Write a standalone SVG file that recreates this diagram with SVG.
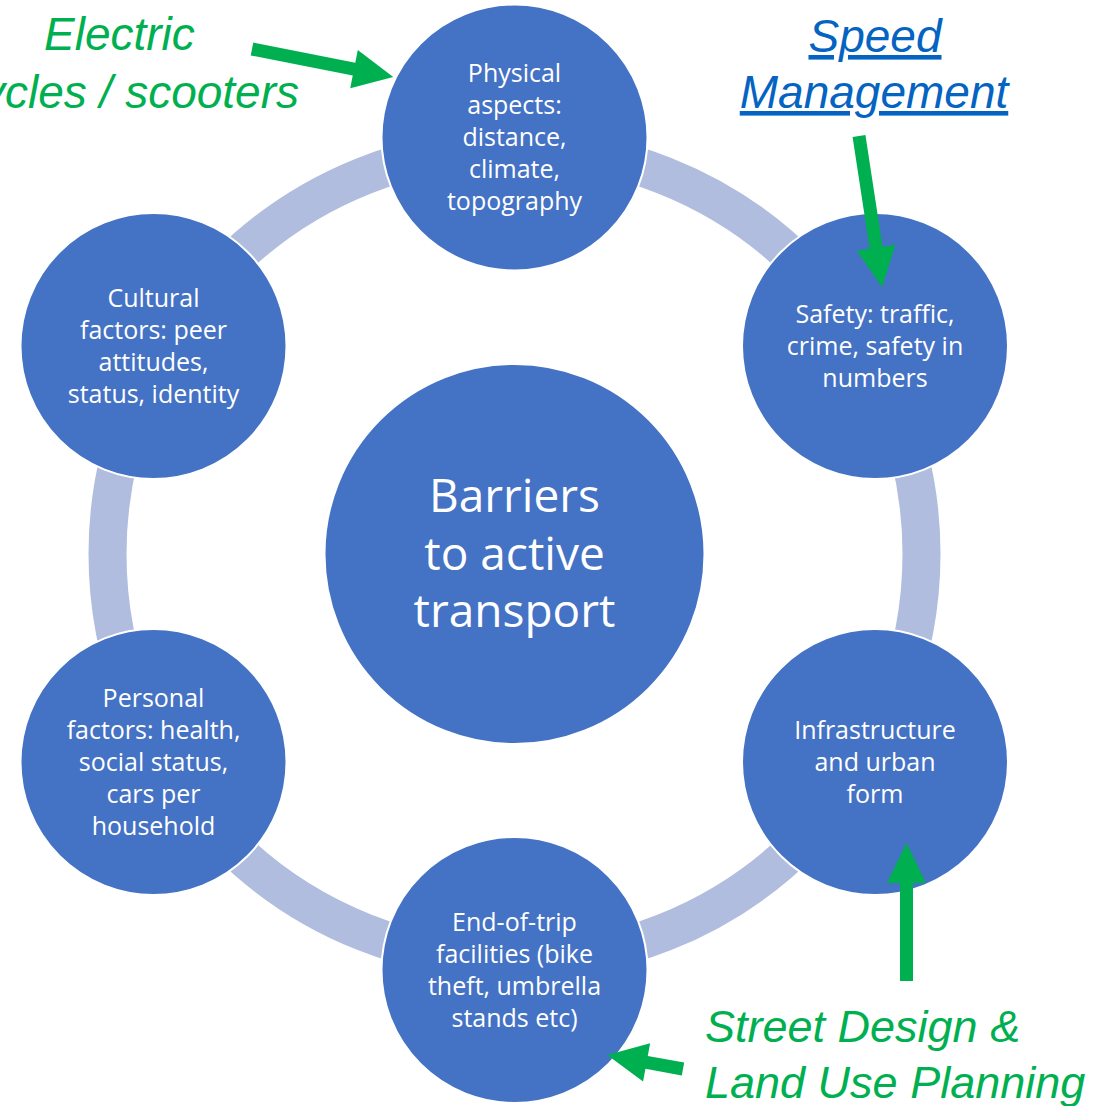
<svg xmlns="http://www.w3.org/2000/svg" width="1099" height="1106" viewBox="0 0 1099 1106">
  <style>
    .node { fill: #4472C4; stroke: #FFFFFF; stroke-width: 2; }
    .ring { fill: none; stroke: #B0BDDF; stroke-width: 38; }
    .lbl { font-family: "Open Sans", "Noto Sans", sans-serif; font-size: 25px; fill: #FFFFFF; text-anchor: middle; }
    .hub { font-family: "Open Sans", "Noto Sans", sans-serif; font-size: 46px; fill: #FFFFFF; text-anchor: middle; }
    .note { font-family: "Liberation Sans", Arial, sans-serif; font-style: italic; font-size: 46px; }
    .small { font-size: 45px; }
    .green { fill: #00B050; }
    .link { fill: #0563C1; text-decoration: underline; text-anchor: middle; }
    .arrow { fill: #00B050; }
  </style>

  <rect width="1099" height="1106" fill="#FFFFFF"/>

  <!-- connecting ring behind the cycle nodes -->
  <g id="connectors">
    <circle class="ring" cx="514.5" cy="554" r="407"/>
  </g>

  <g id="hub">
    <circle class="node" cx="514.5" cy="554" r="190"/>
    <text class="hub" x="514.5" y="512">Barriers</text>
    <text class="hub" x="514.5" y="570">to active</text>
    <text class="hub" x="514.5" y="627">transport</text>
  </g>

  <g id="physical">
    <circle class="node" cx="514.5" cy="137.5" r="133"/>
    <text class="lbl" x="514.5" y="82">Physical</text>
    <text class="lbl" x="514.5" y="114">aspects:</text>
    <text class="lbl" x="514.5" y="146">distance,</text>
    <text class="lbl" x="514.5" y="178">climate,</text>
    <text class="lbl" x="514.5" y="210">topography</text>
  </g>

  <g id="safety">
    <circle class="node" cx="875" cy="346" r="133"/>
    <text class="lbl" x="875" y="322.5">Safety: traffic,</text>
    <text class="lbl" x="875" y="354.5">crime, safety in</text>
    <text class="lbl" x="875" y="386.5">numbers</text>
  </g>

  <g id="infrastructure">
    <circle class="node" cx="875" cy="762" r="133"/>
    <text class="lbl" x="875" y="738.5">Infrastructure</text>
    <text class="lbl" x="875" y="770.5">and urban</text>
    <text class="lbl" x="875" y="802.5">form</text>
  </g>

  <g id="end-of-trip">
    <circle class="node" cx="514.5" cy="970" r="133"/>
    <text class="lbl" x="514.5" y="930.5">End-of-trip</text>
    <text class="lbl" x="514.5" y="962.5">facilities (bike</text>
    <text class="lbl" x="514.5" y="994.5">theft, umbrella</text>
    <text class="lbl" x="514.5" y="1026.5">stands etc)</text>
  </g>

  <g id="personal">
    <circle class="node" cx="153.5" cy="762" r="133"/>
    <text class="lbl" x="153.5" y="706.5">Personal</text>
    <text class="lbl" x="153.5" y="738.5">factors: health,</text>
    <text class="lbl" x="153.5" y="770.5">social status,</text>
    <text class="lbl" x="153.5" y="802.5">cars per</text>
    <text class="lbl" x="153.5" y="834.5">household</text>
  </g>

  <g id="cultural">
    <circle class="node" cx="153.5" cy="346" r="133"/>
    <text class="lbl" x="153.5" y="306.5">Cultural</text>
    <text class="lbl" x="153.5" y="338.5">factors: peer</text>
    <text class="lbl" x="153.5" y="370.5">attitudes,</text>
    <text class="lbl" x="153.5" y="402.5">status, identity</text>
  </g>

  <!-- intervention labels -->
  <g id="electric">
    <text class="note green" x="44" y="50">Electric</text>
    <text class="note green" x="299" y="108" text-anchor="end">cycles / scooters</text>
  </g>

  <g id="speed">
    <text class="note link" x="875" y="52">Speed</text>
    <text class="note link" x="874" y="108">Management</text>
  </g>

  <g id="street">
    <text class="note small green" x="705" y="1042">Street Design &amp;</text>
    <text class="note small green" x="705" y="1098">Land Use Planning</text>
  </g>

  <!-- block arrows pointing at the nodes -->
  <g id="arrows">
    <path class="arrow" transform="translate(252 49) rotate(11.2)" d="M0,-6.5 L104,-6.5 L104,-19.5 L144,0 L104,19.5 L104,6.5 L0,6.5 Z"/>
    <path class="arrow" transform="translate(859 136) rotate(81.3)" d="M0,-6.5 L113,-6.5 L113,-19.5 L153,0 L113,19.5 L113,6.5 L0,6.5 Z"/>
    <path class="arrow" transform="translate(906.5 981) rotate(-90)" d="M0,-6.5 L98,-6.5 L98,-19.5 L138,0 L98,19.5 L98,6.5 L0,6.5 Z"/>
    <path class="arrow" transform="translate(683 1069) rotate(190.4)" d="M0,-6.5 L37,-6.5 L37,-19.5 L77,0 L37,19.5 L37,6.5 L0,6.5 Z"/>
  </g>
</svg>
